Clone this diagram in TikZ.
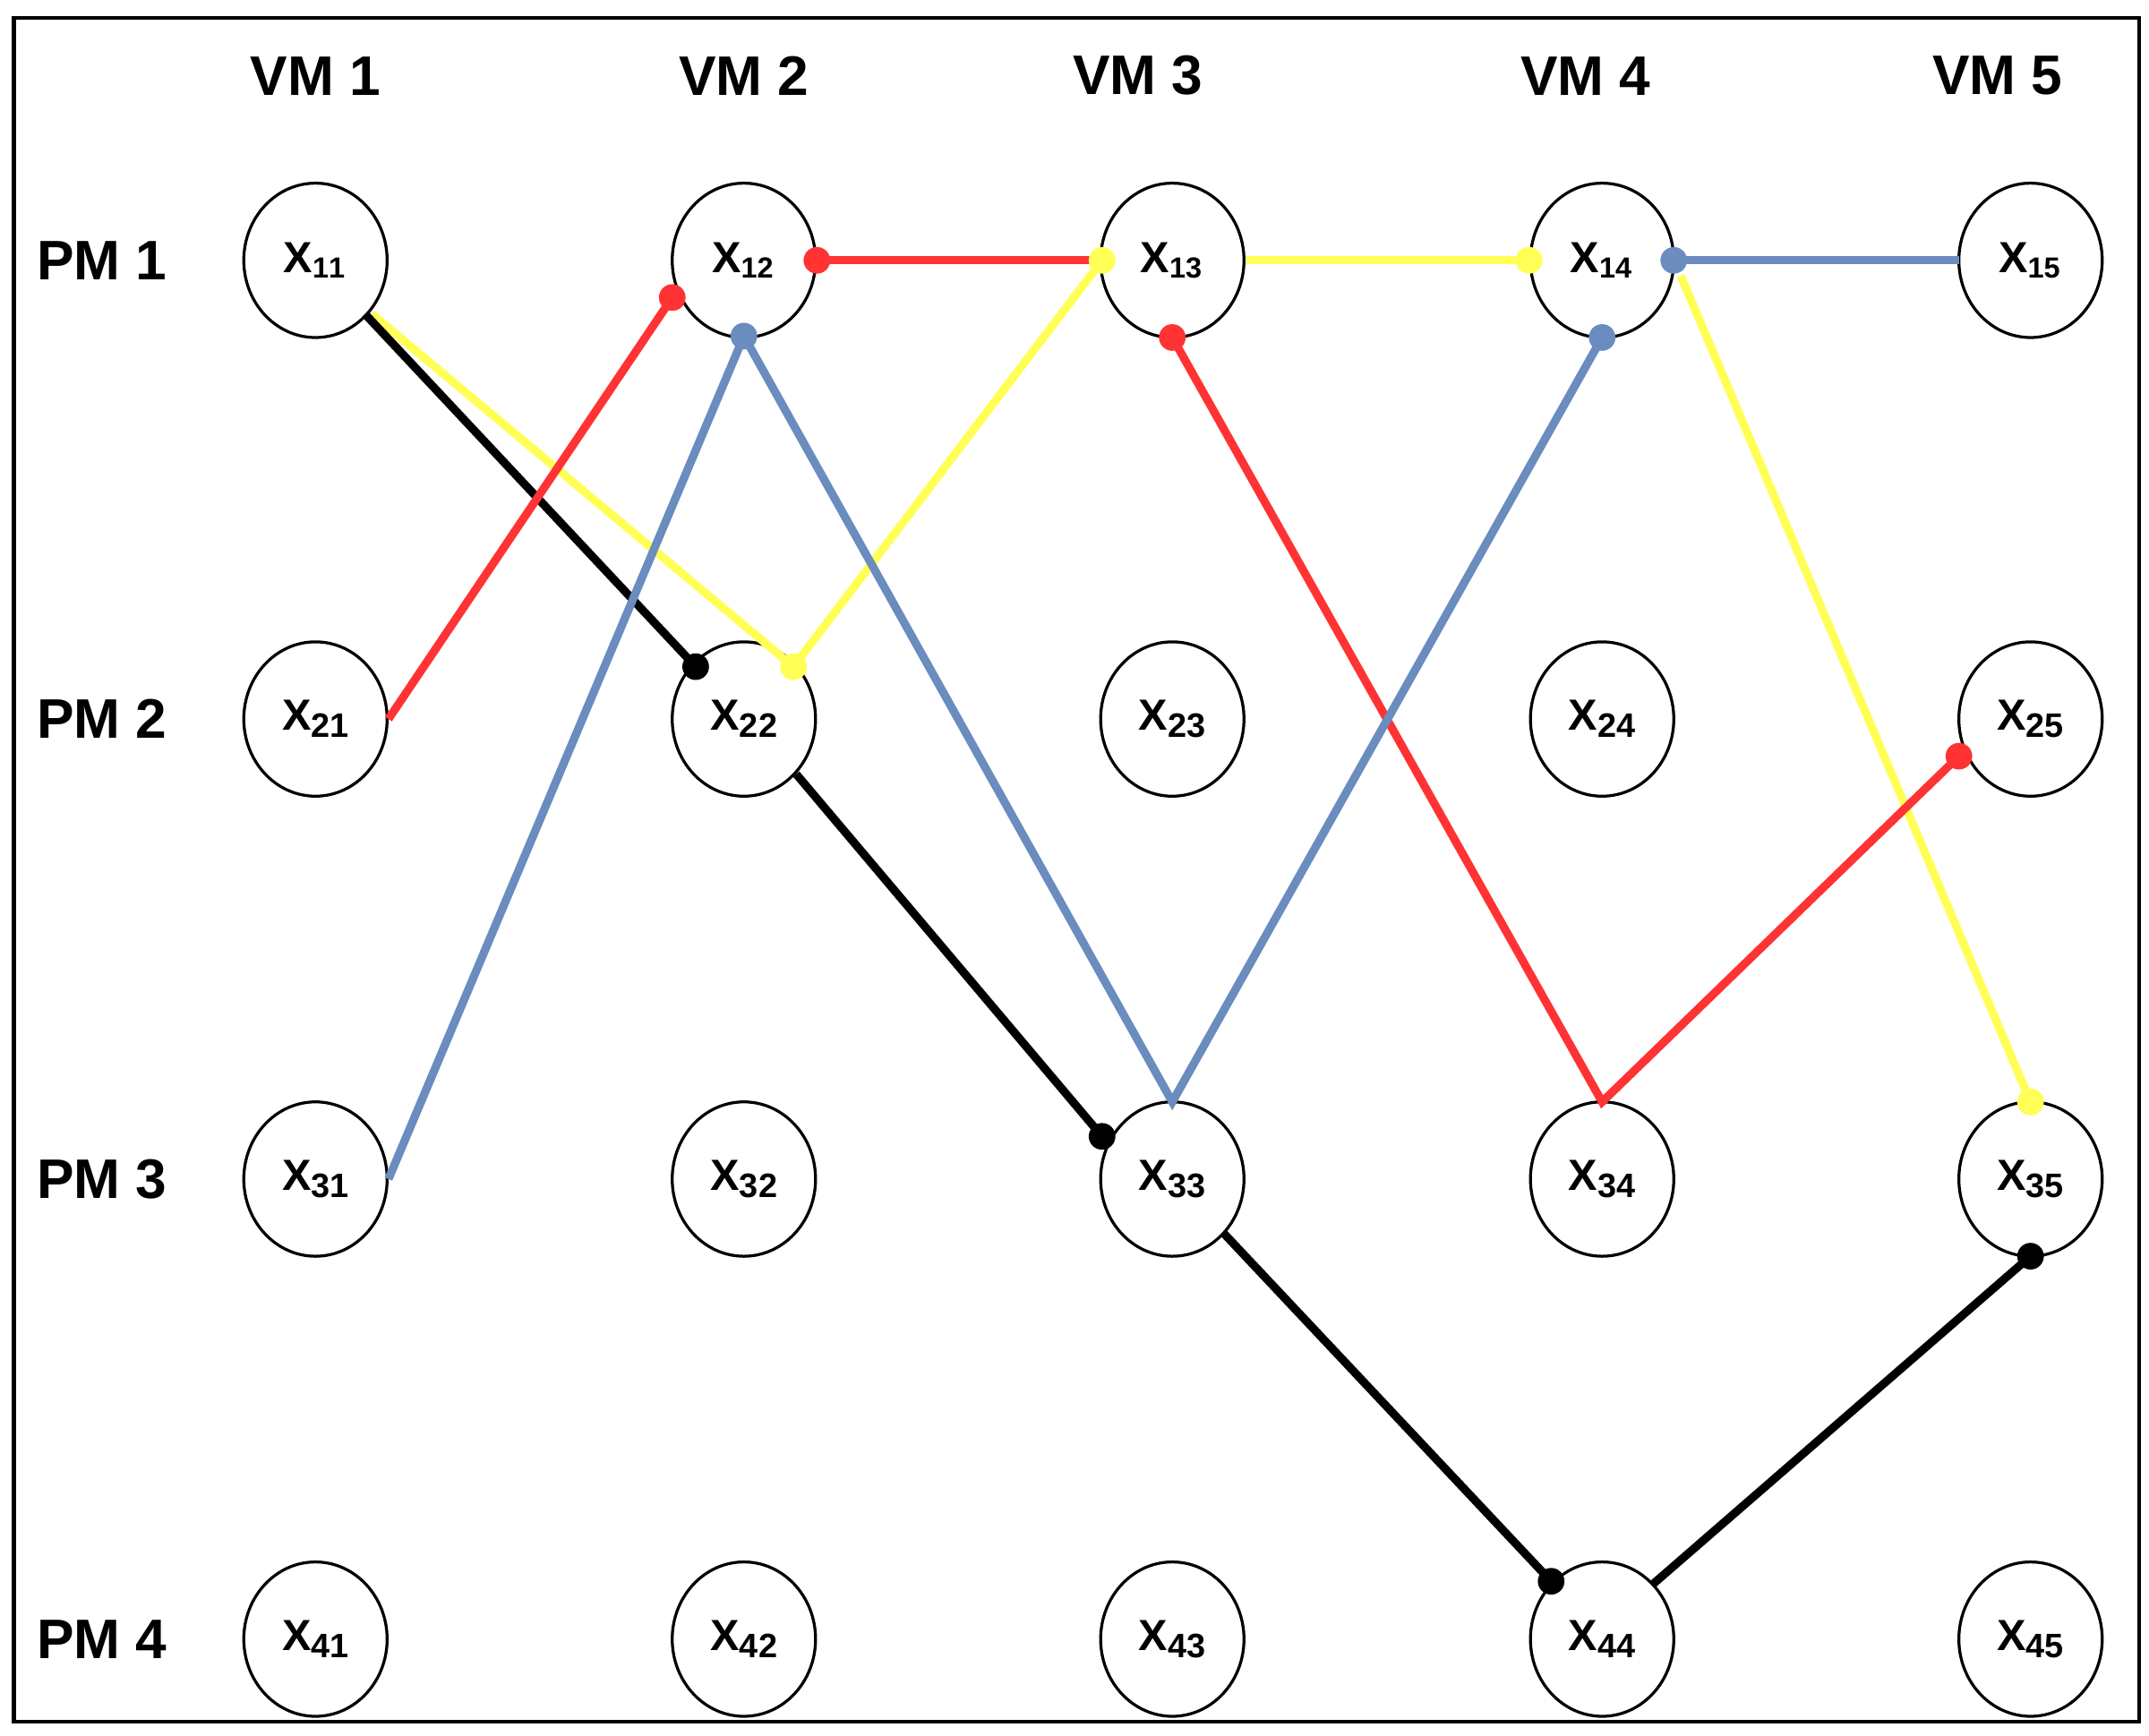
\documentclass[tikz,border=0pt]{standalone}
\usepackage{fontspec}
\setmainfont{Liberation Sans}
\usetikzlibrary{shapes.geometric}
\begin{document}
\begin{tikzpicture}[x=0.01cm,y=-0.01cm,
  vm/.style={ellipse,draw,line width=0.6pt,minimum width=1.04cm,minimum height=1.12cm,inner sep=0pt,font=\bfseries\fontsize{9}{10}\selectfont},
  hd/.style={font=\bfseries\fontsize{11.5}{13}\selectfont},
  e/.style={line width=1.7pt},
  dot/.style={circle,fill,inner sep=0pt,minimum size=5.5pt}]
\definecolor{lred}{RGB}{255,51,51}
\definecolor{lyel}{RGB}{255,255,85}
\definecolor{lblue}{RGB}{106,140,190}
\useasboundingbox (0,0) rectangle (1560,1260);
\draw[line width=0.8pt] (10,13) rectangle (1553,1250);
\foreach \x/\c in {229/1,540/2,826/3,1151/4,1450/5} \node[hd] (vm\c) at (\x,55) {VM \c};
\foreach \y/\r in {189/1,522/2,856/3,1190/4} \node[hd] (pm\r) at (74,\y) {PM \r};
\foreach \x/\c in {229/1,540/2,851/3,1163/4,1474/5}{
  \node[vm] (n1\c) at (\x,189) {X$_{\mathbf{1\c}}$};
  \foreach \y/\r in {522/2,856/3,1190/4}
    \node[vm] (n\r\c) at (\x,\y) {X\raisebox{-0.3ex}{\fontsize{7}{8}\selectfont\bfseries\r\c}};
}
\coordinate (a1) at (265,228); \coordinate (a2) at (505,484);
\coordinate (a3) at (578,562); \coordinate (a4) at (800,825);
\coordinate (a5) at (888,895); \coordinate (a6) at (1126,1148);
\coordinate (a7) at (1200,1150); \coordinate (a8) at (1474,912);
\coordinate (y1) at (270,228); \coordinate (y2) at (576,484); \coordinate (y3) at (800,189);
\coordinate (y4) at (905,189); \coordinate (y5) at (1110,189);
\coordinate (y6) at (1220,200); \coordinate (y7) at (1474,800);
\coordinate (r1) at (282,522); \coordinate (r2) at (488,216);
\coordinate (r3) at (593,189); \coordinate (r4) at (800,189);
\coordinate (r5) at (851,245); \coordinate (r6) at (1163,800); \coordinate (r7) at (1422,549);
\coordinate (b1) at (282,856); \coordinate (b2) at (540,244); \coordinate (b3) at (851,800);
\coordinate (b4) at (1163,245); \coordinate (b5) at (1215,189); \coordinate (b6) at (1422,189);
\draw[e,lyel] (y1)--(y2)--(y3); \draw[e,lyel] (y4)--(y5); \draw[e,lyel] (y6)--(y7);
\draw[e] (a1)--(a2); \draw[e] (a3)--(a4); \draw[e] (a5)--(a6); \draw[e] (a7)--(a8);
\draw[e,lred] (r1)--(r2); \draw[e,lred] (r3)--(r4); \draw[e,lred] (r5)--(r6)--(r7);
\draw[e,lblue] (b1)--(b2)--(b3)--(b4); \draw[e,lblue] (b5)--(b6);
\foreach \p in {a2,a4,a6,a8} \node[dot,black] at (\p) {};
\foreach \p in {y2,y3,y5,y7} \node[dot,lyel] at (\p) {};
\foreach \p in {r2,r3,r5,r7} \node[dot,lred] at (\p) {};
\foreach \p in {b2,b4,b5} \node[dot,lblue] at (\p) {};
\end{tikzpicture}
\end{document}
